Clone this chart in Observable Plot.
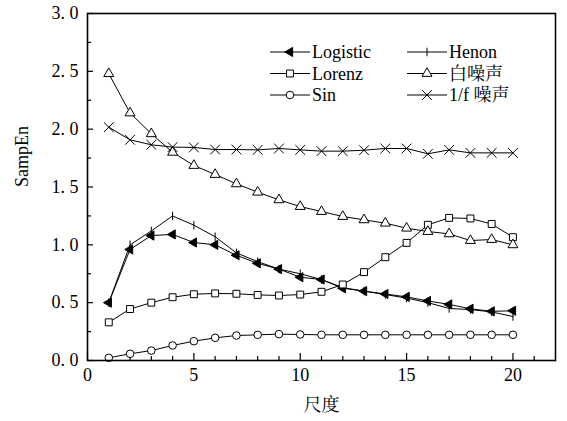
<!DOCTYPE html>
<html><head><meta charset="utf-8">
<script src="https://cdn.jsdelivr.net/npm/d3@7"></script>
<script src="https://cdn.jsdelivr.net/npm/@observablehq/plot@0.6"></script>
<style>body{margin:0;background:#fff} svg text{font-family:'Liberation Serif','Noto Serif CJK SC','Noto Sans CJK SC',serif !important}</style>
</head><body><div id="chart"></div>
<script>
// ---- data ----
const scaleValues = d3.range(1, 21);
const logistic = [0.50, 0.96, 1.08, 1.09, 1.02, 1.00, 0.91, 0.84, 0.79, 0.72, 0.70, 0.625, 0.60, 0.575, 0.55, 0.515, 0.485, 0.447, 0.425, 0.43];
const henon    = [0.50, 1.00, 1.12, 1.25, 1.17, 1.07, 0.93, 0.855, 0.79, 0.75, 0.70, 0.63, 0.60, 0.57, 0.54, 0.50, 0.45, 0.44, 0.42, 0.38];
const lorenz   = [0.33, 0.445, 0.50, 0.547, 0.573, 0.58, 0.577, 0.567, 0.562, 0.57, 0.594, 0.657, 0.764, 0.893, 1.017, 1.173, 1.233, 1.228, 1.18, 1.066];
const whiteNoise = [2.48, 2.14, 1.96, 1.80, 1.686, 1.608, 1.527, 1.455, 1.389, 1.331, 1.288, 1.245, 1.216, 1.187, 1.144, 1.115, 1.095, 1.037, 1.046, 1.00];
const pinkNoise  = [2.017, 1.908, 1.865, 1.845, 1.842, 1.824, 1.824, 1.821, 1.833, 1.821, 1.81, 1.81, 1.818, 1.833, 1.833, 1.787, 1.821, 1.795, 1.795, 1.795];
const sine       = [0.023, 0.058, 0.086, 0.13, 0.167, 0.196, 0.216, 0.222, 0.228, 0.225, 0.222, 0.222, 0.222, 0.222, 0.222, 0.222, 0.222, 0.222, 0.222, 0.222];
const seriesNames = ["Logistic", "Henon", "Lorenz", "白噪声", "Sin", "1/f 噪声"];
const xMajorTicks = [0, 5, 10, 15, 20];
const xMinorTicks = d3.range(1, 22).filter(d => d % 5 !== 0);
const yMajorTicks = [0, 0.5, 1.0, 1.5, 2.0, 2.5, 3.0];
const yMinorTicks = [0.25, 0.75, 1.25, 1.75, 2.25, 2.75];
const xLabel = "尺度";
const yLabel = "SampEn";

// ---- symbols ----
const vbar = {draw(ctx, size) { const h = Math.sqrt(size) * 0.6; ctx.moveTo(0, -h); ctx.lineTo(0, h); }};
const styles = {
  "Logistic": {values: logistic, symbol: "triangle", rotate: -90, fill: "black", r: 3.4},
  "Henon":    {values: henon, symbol: vbar, rotate: 0, fill: "none", r: 4},
  "Lorenz":   {values: lorenz, symbol: "square", rotate: 0, fill: "white", r: 3.9},
  "白噪声":    {values: whiteNoise, symbol: "triangle", rotate: 0, fill: "white", r: 3.7},
  "Sin":      {values: sine, symbol: "circle", rotate: 0, fill: "white", r: 3.8},
  "1/f 噪声":  {values: pinkNoise, symbol: "times", rotate: 0, fill: "none", r: 4.5}
};

const W = 567, H = 421, mL = 87, mR = 12, mT = 13, mB = 61;
const innerW = W - mL - mR, innerH = H - mT - mB;
const font = "'Liberation Serif', 'Noto Serif CJK SC', 'Noto Sans CJK SC', serif";

const seriesMarks = [];
for (const name of seriesNames) {
  const s = styles[name];
  const data = scaleValues.map((x, i) => ({x, y: s.values[i]}));
  seriesMarks.push(Plot.line(data, {x: "x", y: "y", stroke: "black", strokeWidth: 1}));
}
for (const name of seriesNames) {
  const s = styles[name];
  const data = scaleValues.map((x, i) => ({x, y: s.values[i]}));
  seriesMarks.push(Plot.dot(data, {x: "x", y: "y", symbol: s.symbol, r: s.r, rotate: s.rotate,
    fill: s.fill, stroke: "black", strokeWidth: 1}));
}

const plot = Plot.plot({
  width: W, height: H,
  marginLeft: mL, marginRight: mR, marginTop: mT, marginBottom: mB,
  style: {fontFamily: font, fontSize: "18px", background: "white", color: "black"},
  x: {domain: [0, 22]},
  y: {domain: [0, 3]},
  marks: [
    Plot.axisX(xMajorTicks, {tickSize: 0, tickPadding: 8, tickFormat: d => String(d), label: null, fontSize: 18, fontFamily: font}),
    Plot.axisY(yMajorTicks, {tickSize: 0, tickPadding: 9, tickFormat: d => d.toFixed(1).replace(".", ". "), label: null, fontSize: 18, fontFamily: font}),
    Plot.tickX(xMajorTicks, {x: d => d, insetTop: innerH - 7, stroke: "black", strokeWidth: 1.2}),
    Plot.tickX(xMinorTicks, {x: d => d, insetTop: innerH - 4, stroke: "black", strokeWidth: 1.2}),
    Plot.tickY(yMajorTicks, {y: d => d, insetRight: innerW - 6, stroke: "black", strokeWidth: 1.2}),
    Plot.tickY(yMinorTicks, {y: d => d, insetRight: innerW - 4, stroke: "black", strokeWidth: 1.2}),
    ...seriesMarks,
    Plot.frame({stroke: "black", strokeWidth: 1.6}),
    Plot.text([xLabel], {frameAnchor: "bottom", dy: 50, text: d => d, fontSize: 18, fontFamily: font}),
    Plot.text([yLabel], {frameAnchor: "left", dx: -65, rotate: -90, text: d => d, fontSize: 18, fontFamily: font})
  ]
});
document.getElementById("chart").appendChild(plot);

// ---- legend ----
const svg = d3.select(plot);
const legendLayout = [
  {name: "Logistic", col: 0, row: 0}, {name: "Lorenz", col: 0, row: 1}, {name: "Sin", col: 0, row: 2},
  {name: "Henon", col: 1, row: 0}, {name: "白噪声", col: 1, row: 1}, {name: "1/f 噪声", col: 1, row: 2}
];
const symMap = {triangle: d3.symbolTriangle, square: d3.symbolSquare, circle: d3.symbolCircle, times: d3.symbolTimes};
const lg = svg.append("g").attr("font-family", font).attr("font-size", 18).attr("text-anchor", "start");
for (const item of legendLayout) {
  const s = styles[item.name];
  const x0 = item.col === 0 ? 270 : 407;
  const y0 = 52 + item.row * 21.5;
  const g = lg.append("g").attr("transform", `translate(${x0},${y0})`);
  g.append("line").attr("x1", 0).attr("x2", 40).attr("stroke", "black").attr("stroke-width", 1);
  const sym = typeof s.symbol === "string" ? symMap[s.symbol] : s.symbol;
  g.append("path").attr("d", d3.symbol(sym, Math.PI * s.r * s.r)())
    .attr("transform", `translate(20,0) rotate(${s.rotate})`)
    .attr("fill", s.fill).attr("stroke", "black").attr("stroke-width", 1);
  g.append("text").attr("x", 42).attr("dy", "0.35em").attr("text-anchor", "start").text(item.name);
}
</script>
</body></html>
